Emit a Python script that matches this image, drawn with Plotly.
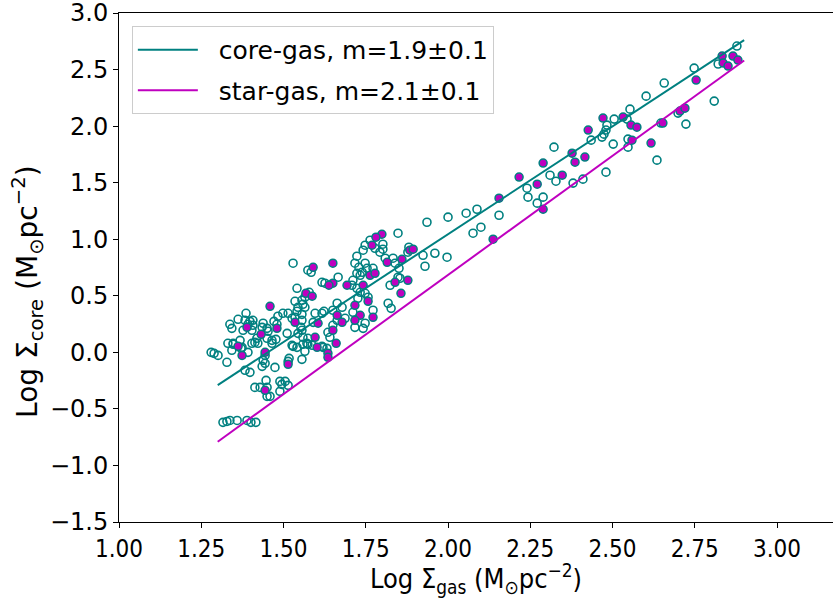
import plotly.graph_objects as go

# Fit lines
line_x = [1.30, 2.90]
core_line_y = [-0.29, 2.76]
star_line_y = [-0.79, 2.58]

# Core-gas points (open circles)
core_x = [1.316, 1.328, 1.337, 1.359, 1.389, 1.401, 1.416,
          1.280, 1.289, 1.301, 1.328, 1.347, 1.371, 1.392, 1.404, 1.422, 1.444, 1.438, 1.444, 1.435,
          1.383, 1.398, 1.474, 1.465, 1.517, 1.514, 1.529, 1.556, 1.565, 1.559, 1.574, 1.617,
          1.413, 1.429, 1.447, 1.450, 1.450, 1.459, 1.489, 1.505, 1.495, 1.514, 1.489,
          1.529, 1.574, 1.584, 1.617, 1.666, 1.541, 1.578, 1.565, 1.556, 1.559, 1.535, 1.544, 1.565,
          1.541, 1.556, 1.535, 1.514, 1.498, 1.483, 1.386, 1.362, 1.383, 1.398, 1.407, 1.392, 1.407,
          1.337, 1.343, 1.404, 1.377, 1.438, 1.435, 1.450, 1.419, 1.413, 1.471, 1.480, 1.453, 1.450,
          1.465, 1.477, 1.511, 1.526, 1.556, 1.553, 1.590, 1.617, 1.623, 1.596, 1.368, 1.347, 1.374,
          1.331, 1.343, 1.526, 1.541, 1.571, 1.587, 1.544, 1.556, 1.559, 1.574, 1.632, 1.620, 1.641,
          1.848, 1.763, 1.748, 1.778, 1.802, 1.802, 1.742, 1.723, 1.793, 1.809, 1.833, 1.878, 1.881,
          1.924, 1.960, 1.997, 1.930, 1.839, 1.851, 1.717, 1.729, 1.748, 1.754, 1.772, 1.711, 1.723,
          1.739, 1.733, 1.848, 1.824, 1.854, 1.818, 1.827, 1.626, 1.708, 1.723, 1.733, 1.748, 1.757,
          1.726, 1.772, 1.711, 1.717, 1.742, 1.748, 1.663, 1.650, 1.678, 1.687, 1.663, 1.650, 1.635,
          1.936, 2.000, 2.055, 2.088, 2.155, 2.076, 2.100, 2.240, 2.243, 2.289, 2.271, 2.310, 2.328,
          2.322, 2.380, 2.410, 2.480, 2.502, 2.468, 2.435, 2.480, 2.505, 2.483, 2.544, 2.553, 2.547,
          2.547, 2.602, 2.657, 2.635, 2.699, 2.723, 2.809, 2.748, 2.821, 2.878, 2.647, 2.474]
core_y = [-0.619, -0.611, -0.602, -0.602, -0.602, -0.619, -0.619,
          0.000, -0.009, -0.027, -0.088, 0.071, 0.035, 0.000, 0.080, 0.080, -0.027, -0.071, -0.097, -0.124,
          -0.159, -0.177, -0.133, 0.080, -0.053, -0.080, 0.053, -0.062, 0.009, 0.071, 0.071, 0.053,
          -0.310, -0.310, -0.248, -0.310, -0.389, -0.389, -0.257, -0.257, -0.283, -0.292, -0.345,
          0.788, 0.726, 0.708, 0.619, 0.664, 0.566, 0.531, 0.487, 0.460, 0.425, 0.451, 0.398, 0.398,
          0.363, 0.336, 0.310, 0.345, 0.345, 0.319, 0.345, 0.292, 0.283, 0.274, 0.283, 0.248, 0.239,
          0.248, 0.212, 0.195, 0.195, 0.257, 0.221, 0.212, 0.124, 0.088, 0.274, 0.248, 0.186, 0.124,
          0.106, 0.115, 0.168, 0.301, 0.283, 0.221, 0.265, 0.345, 0.363, 0.345, 0.106, 0.080, 0.044,
          0.080, 0.018, 0.062, 0.044, 0.080, 0.062, 0.168, 0.195, 0.133, 0.124, 0.035, 0.044, 0.133,
          1.053, 0.991, 0.947, 0.920, 0.956, 0.912, 0.903, 0.850, 0.885, 0.832, 0.832, 0.885, 0.929,
          0.858, 0.876, 0.841, 0.761, 0.788, 0.743, 0.788, 0.752, 0.788, 0.743, 0.743, 0.637, 0.699,
          0.708, 0.681, 0.664, 0.593, 0.655, 0.434, 0.389, 0.611, 0.593, 0.566, 0.531, 0.522, 0.487,
          0.478, 0.372, 0.354, 0.221, 0.212, 0.257, 0.434, 0.372, 0.398, 0.301, 0.283, 0.239, 0.177,
          1.150, 1.195, 1.230, 1.265, 1.212, 1.053, 1.106, 1.451, 1.372, 1.372, 1.319, 1.566, 1.513,
          1.814, 1.496, 1.531, 1.593, 1.841, 1.903, 1.876, 1.965, 2.062, 2.009, 2.062, 2.150, 1.885,
          1.814, 2.265, 2.381, 1.699, 2.115, 2.018, 2.221, 2.513, 2.549, 2.708, 2.027, 1.929]

# Star-gas points (filled magenta)
star_x = [1.362, 1.374, 1.444, 1.514, 1.602, 1.444, 1.590, 1.568, 1.587, 1.459, 1.389, 1.432,
          1.480, 1.535, 1.605, 1.596, 1.799, 1.781, 1.769, 1.884, 1.894, 1.815, 1.860, 1.650,
          1.763, 1.778, 1.878, 1.839, 1.857, 1.742, 1.693, 1.650, 1.638, 1.757, 1.717, 1.733,
          1.772, 1.717, 1.663, 1.678, 1.650, 1.660, 1.635, 1.635,
          2.155, 2.137, 2.216, 2.271, 2.289, 2.289, 2.347, 2.377, 2.386, 2.416, 2.426, 2.471,
          2.532, 2.556, 2.574, 2.559, 2.617, 2.653, 2.705, 2.720, 2.754, 2.833, 2.836, 2.851,
          2.866, 2.881]
star_y = [0.053, -0.027, 0.000, -0.106, 0.044, -0.336, 0.752, 0.522, 0.496, 0.407, 0.221, 0.159,
          0.212, 0.265, 0.257, 0.133, 1.044, 1.018, 0.947, 0.903, 0.912, 0.796, 0.823, 0.788,
          0.681, 0.699, 0.637, 0.619, 0.522, 0.593, 0.593, 0.611, 0.593, 0.451, 0.416, 0.327,
          0.310, 0.283, 0.327, 0.265, 0.195, 0.080, -0.009, -0.044,
          1.363, 1.000, 1.549, 1.487, 1.673, 1.265, 1.566, 1.761, 1.681, 1.726, 1.965, 2.071,
          2.080, 2.009, 1.991, 1.876, 1.850, 2.027, 2.133, 2.159, 2.407, 2.619, 2.558, 2.531,
          2.619, 2.584]

x_ticks = [1.00, 1.25, 1.50, 1.75, 2.00, 2.25, 2.50, 2.75, 3.00]
x_tick_text = ["1.00", "1.25", "1.50", "1.75", "2.00", "2.25", "2.50", "2.75", "3.00"]
y_ticks = [-1.5, -1.0, -0.5, 0.0, 0.5, 1.0, 1.5, 2.0, 2.5, 3.0]
y_tick_text = ["\u22121.5", "\u22121.0", "\u22120.5", "0.0", "0.5", "1.0", "1.5", "2.0", "2.5", "3.0"]

TEAL = "#008080"
MAG = "#bf00bf"
NARROW = "DejaVu Sans Condensed, DejaVu Sans"
NB = "\u00a0\u00a0"

fig = go.Figure()
fig.add_trace(go.Scatter(x=core_x, y=core_y, mode="markers", showlegend=False,
                         marker=dict(symbol="circle-open", size=8, color=TEAL, line=dict(width=1.6, color=TEAL))))
fig.add_trace(go.Scatter(x=star_x, y=star_y, mode="markers", showlegend=False,
                         marker=dict(symbol="circle", size=8, color=MAG, line=dict(width=1.5, color=TEAL))))
fig.add_trace(go.Scatter(x=line_x, y=core_line_y, mode="lines", name=NB + "core-gas, m=1.9\u00b10.1",
                         legendgroup="a", line=dict(color=TEAL, width=2)))
fig.add_trace(go.Scatter(x=line_x, y=star_line_y, mode="lines", name=NB + "star-gas, m=2.1\u00b10.1",
                         legendgroup="b", line=dict(color=MAG, width=2)))

fig.update_layout(
    width=833, height=598,
    margin=dict(l=119, r=0, t=13, b=76),
    paper_bgcolor="white", plot_bgcolor="white",
    font=dict(family="DejaVu Sans", size=20, color="black"),
    legend=dict(x=0.018, y=0.9745, xanchor="left", yanchor="top",
                bgcolor="rgba(255,255,255,0.8)", bordercolor="#cccccc", borderwidth=1,
                font=dict(size=25, family="DejaVu Sans"), itemwidth=60,
                tracegroupgap=5),
    xaxis=dict(range=[1.0, 3.17], showgrid=False, zeroline=False, showline=True, linecolor="black",
               linewidth=1, mirror=True, ticks="outside", ticklen=5, tickcolor="black",
               tickvals=x_ticks, ticktext=x_tick_text, automargin=False, ticklabeloverflow="allow",
               tickfont=dict(family=NARROW, size=24),
               title=dict(text="Log \u03a3<sub>gas</sub> (M<sub>\u2299</sub>pc<sup>\u22122</sup>)",
                          font=dict(family=NARROW, size=27), standoff=4)),
    yaxis=dict(range=[-1.5, 3.0], showgrid=False, zeroline=False, showline=True, linecolor="black",
               linewidth=1, ticks="outside", ticklen=5, tickcolor="black", automargin=False,
               ticklabeloverflow="allow",
               tickvals=y_ticks, ticktext=y_tick_text, tickfont=dict(size=24)),
    annotations=[dict(text="Log \u03a3<sub>core</sub> (M<sub>\u2299</sub>pc<sup>\u22122</sup>)",
                      xref="paper", yref="paper", x=-0.1275, y=0.452, xanchor="center", yanchor="middle",
                      textangle=-90, showarrow=False, font=dict(size=28))],
)

fig.write_html("out.html", config={"displayModeBar": False},
               post_script="document.body.style.margin='0px';document.body.style.overflow='hidden';")
